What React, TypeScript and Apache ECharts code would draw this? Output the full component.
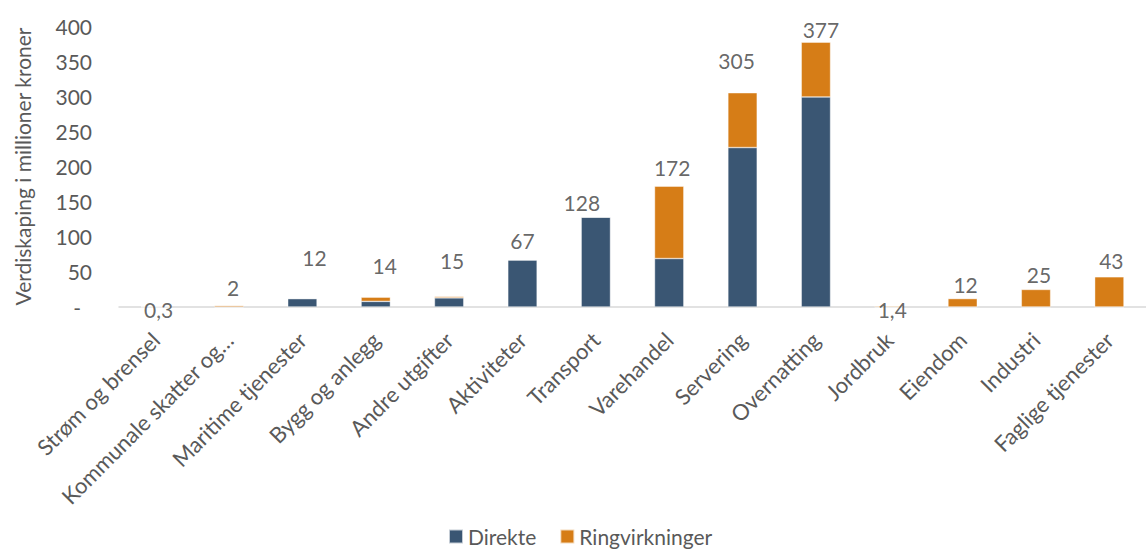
import React, { useEffect, useRef } from "react";
import * as echarts from "echarts";

const categories = [
  "Strøm og brensel",
  "Kommunale skatter og…",
  "Maritime tjenester",
  "Bygg og anlegg",
  "Andre utgifter",
  "Aktiviteter",
  "Transport",
  "Varehandel",
  "Servering",
  "Overnatting",
  "Jordbruk",
  "Eiendom",
  "Industri",
  "Faglige tjenester",
];
const direkte = [0.3, 0, 12, 8, 13, 67, 128, 69, 227, 299, 0, 0, 0, 0];
const ringvirkninger = [0, 2, 0, 6, 2, 0, 0, 103, 78, 78, 1.4, 12, 25, 43];
const totals = [0.3, 2, 12, 14, 15, 67, 128, 172, 305, 377, 1.4, 12, 25, 43];
// label nudges [dx, dy above point] in px (styling only)
const labelNudge: [number, number][] = [
  [3, -3], [4, 18], [12, 41], [9, 32], [3, 36], [0, 19], [-14, 15], [3, 19],
  [-6, 32], [5, 13], [3, -3], [3, 14], [3, 15], [2, 16],
];

const FONT = "Lato, 'Noto Sans', sans-serif";
const BLUE = "#3A5673";
const ORANGE = "#D67D17";

export default function App() {
  const ref = useRef<HTMLDivElement>(null);
  useEffect(() => {
    if (!ref.current) return;
    const chart = echarts.init(ref.current, null, { renderer: "svg" });
    chart.setOption({
      animation: false,
      textStyle: { fontFamily: FONT },
      grid: { left: 119, right: 0, top: 26, bottom: 243, containLabel: false },
      legend: {
        top: 521,
        left: 443,
        itemWidth: 14,
        itemHeight: 14,
        itemGap: 23,
        icon: "rect",
        textStyle: { fontSize: 21, color: "#595959", fontFamily: FONT },
        data: ["Direkte", "Ringvirkninger"],
      },
      xAxis: {
        type: "category",
        data: categories,
        axisLine: { lineStyle: { color: "#D9D9D9", width: 1.5 } },
        axisTick: { show: false },
        axisLabel: {
          rotate: 45,
          interval: 0,
          fontSize: 22,
          color: "#595959",
          margin: 29,
          fontFamily: FONT,
        },
      },
      yAxis: {
        type: "value",
        min: 0,
        max: 400,
        interval: 50,
        name: "Verdiskaping i millioner kroner",
        nameLocation: "middle",
        nameRotate: 90,
        nameGap: 86,
        nameTextStyle: { fontSize: 21, color: "#595959", fontFamily: FONT },
        axisLine: { show: false },
        axisTick: { show: false },
        splitLine: { show: false },
        axisLabel: {
          fontSize: 21,
          color: "#595959",
          margin: 27,
          fontFamily: FONT,
          formatter: (v: number) => (v === 0 ? "{d|-}" : String(v)),
          rich: {
            d: { fontSize: 21, color: "#595959", fontFamily: FONT, padding: [0, 11, 0, 0] },
          },
        },
      },
      series: [
        {
          name: "Direkte",
          type: "bar",
          stack: "t",
          data: direkte,
          barWidth: "40%",
          itemStyle: { color: BLUE, borderColor: "rgba(255,255,255,0.7)", borderWidth: 0.6 },
        },
        {
          name: "Ringvirkninger",
          type: "bar",
          stack: "t",
          data: ringvirkninger,
          barWidth: "40%",
          itemStyle: { color: ORANGE, borderColor: "rgba(255,255,255,0.7)", borderWidth: 0.6 },
        },
        {
          name: "labels",
          type: "scatter",
          symbolSize: 0,
          silent: true,
          z: 10,
          data: totals.map((v, i) => ({
            value: v,
            label: {
              show: true,
              position: "inside",
              offset: [labelNudge[i][0], -labelNudge[i][1]],
              formatter: () => String(v).replace(".", ","),
              fontSize: 21,
              color: "#404040",
              fontFamily: FONT,
            },
          })),
        },
      ],
    });
    return () => chart.dispose();
  }, []);
  return (
    <div
      ref={ref}
      style={{ position: "fixed", left: 0, top: 0, width: 1146, height: 550, background: "#fff" }}
    />
  );
}
